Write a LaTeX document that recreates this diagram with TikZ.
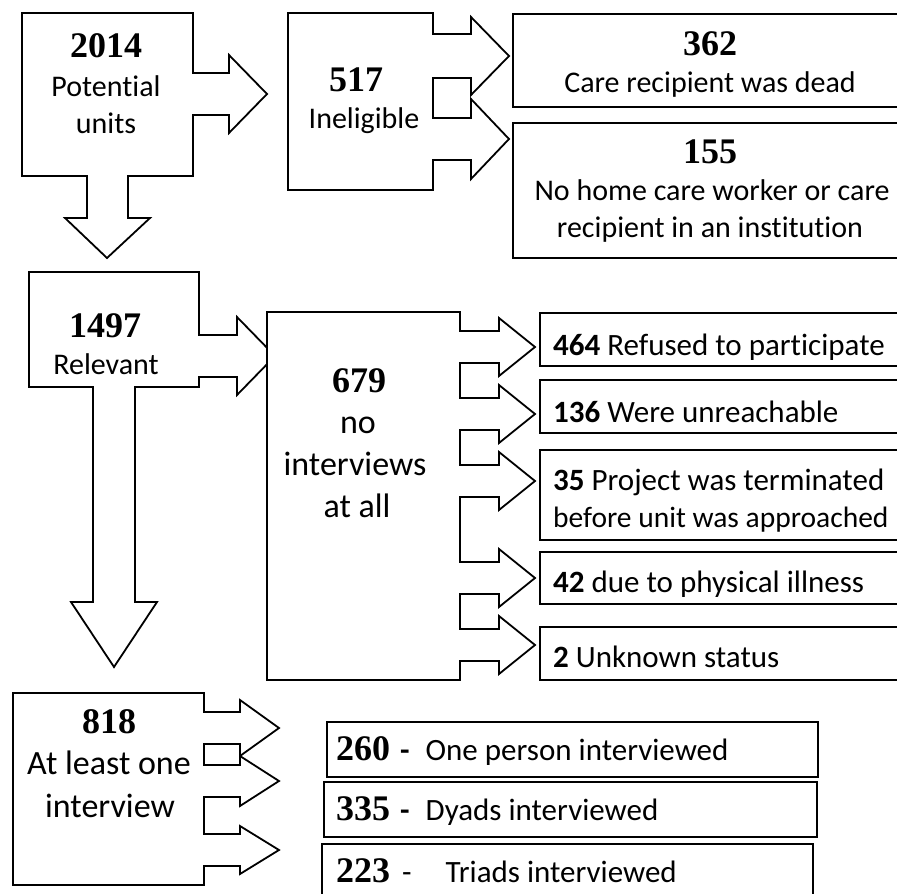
\documentclass[tikz,border=0pt]{standalone}
\usepackage{fontspec}
\setmainfont{Carlito}[Ligatures=CommonOff]
\newfontfamily\numfont{Liberation Serif}
\usepackage{tikz}
\newcommand{\bignum}[1]{{\numfont\bfseries\fontsize{36}{36}\selectfont #1}}
\tikzset{
    blk/.style={draw=black, fill=white, line width=1.8pt, line join=miter},
    plainbox/.style={draw=black, line width=1.5pt},
    numtxt/.style={font=\numfont\bfseries\fontsize{36}{36}\selectfont, anchor=base, inner sep=0pt},
    lbltxt/.style={font=\fontsize{30}{36}\selectfont, anchor=base, inner sep=0pt},
    biglbl/.style={font=\fontsize{34}{40}\selectfont, anchor=base, inner sep=0pt},
    rowtxt/.style={font=\fontsize{31}{36}\selectfont, anchor=base west, inner sep=0pt}
}

\begin{document}
\begin{tikzpicture}[x=1pt, y=-1pt]
            \useasboundingbox (0,0) rectangle (897,894);
            \clip (0,0) rectangle (897,894);
            \fill[white] (0,0) rectangle (897,894);
            \filldraw[blk] (22,13) -- (193,13) -- (193,73) -- (229,73) -- (229,55) -- (267,94) -- (229,133)
                -- (229,115) -- (193,115) -- (193,176) -- (128,176) -- (128,218) -- (150,218) -- (107,258)
                -- (65,218) -- (87,218) -- (87,176) -- (22,176) -- cycle;
            \filldraw[blk] (288,13) -- (433,13)
                \foreach \c/\s/\h in {56/22/39,139/21/40}{
                    -- (433,\c-\s) -- (471,\c-\s) -- (471,\c-\h) -- (509,\c) -- (471,\c+\h) -- (471,\c+\s) -- (433,\c+\s)
                } -- (433,190) -- (288,190) -- cycle;
            \filldraw[blk] (29,272) -- (199,272) -- (199,335) -- (237,335) -- (237,317) -- (275,356) -- (237,395)
                -- (237,377) -- (199,377) -- (199,387) -- (135,387) -- (135,602) -- (157,602) -- (114,667)
                -- (71,602) -- (93,602) -- (93,387) -- (29,387) -- cycle;
            \filldraw[blk] (267,312) -- (460,312)
                \foreach \c in {347,414,481,578,645}{
                    -- (460,\c-16) -- (499,\c-16) -- (499,\c-29) -- (535,\c) -- (499,\c+29) -- (499,\c+16) -- (460,\c+16)
                } -- (460,680) -- (267,680) -- cycle;
            \filldraw[blk] (13,693) -- (204,693)
                \foreach \c/\h in {728/28,781/25,850/24}{
                    -- (204,\c-16) -- (240,\c-16) -- (240,\c-\h) -- (279,\c) -- (240,\c+\h) -- (240,\c+16) -- (204,\c+16)
                } -- (204,885) -- (13,885) -- cycle;
            \draw[plainbox] (513,14) rectangle (910,107);
            \draw[plainbox] (513,123) rectangle (910,258);
            \foreach \t/\b in {313/366,380/433,450/540,552/604,627/680}{
                \draw[plainbox] (540,\t) rectangle (910,\b);
            }
            \draw[plainbox] (327,722) rectangle (818,777);
            \draw[plainbox] (324,782) rectangle (817,837);
            \draw[plainbox] (322,844) rectangle (813,910);
            \node[numtxt] (n2014) at (106,57) {2014};
            \node[lbltxt] (potential) at (106,96) {Potential};
            \node[lbltxt] (units) at (106,133) {units};
            \node[numtxt] (n517) at (356,91) {517};
            \node[lbltxt] (inelig) at (364,128) {Ineligible};
            \node[numtxt] (n362) at (710,55) {362};
            \node[lbltxt] (dead) at (710,92) {Care recipient was dead};
            \node[numtxt] (n155) at (710,163) {155};
            \node[lbltxt] (nohome) at (712,200) {No home care worker or care};
            \node[lbltxt] (instit) at (710,237) {recipient in an institution};
            \node[numtxt] (n1497) at (105,337) {1497};
            \node[lbltxt] (relevant) at (106,374) {Relevant};
            \node[numtxt] (n679) at (359,392) {679};
            \node[biglbl] (no) at (358,433) {no};
            \node[biglbl] (interviews) at (355,475) {interviews};
            \node[biglbl] (atall) at (357,517) {at all};
            \node[rowtxt] (r464) at (553,355) {\textbf{464} Refused to participate};
            \node[rowtxt] (r136) at (553,422) {\textbf{136} Were unreachable};
            \node[rowtxt] (r35) at (553,490) {\textbf{35} Project was terminated};
            \node[rowtxt, font=\fontsize{29.5}{36}\selectfont] (r35b) at (553,527) {before unit was approached};
            \node[rowtxt] (r42) at (553,592) {\textbf{42} due to physical illness};
            \node[rowtxt] (r2) at (553,667) {\textbf{2} Unknown status};
            \node[numtxt] (n818) at (109,733) {818};
            \node[biglbl] (atleast) at (109,774) {At least one};
            \node[biglbl] (interview) at (110,817) {interview};
            \node[rowtxt] (r260) at (336,760) {\bignum{260}\hspace{10pt}\textbf{-}\hspace{16pt}One person interviewed};
            \node[rowtxt] (r335) at (336,820) {\bignum{335}\hspace{10pt}\textbf{-}\hspace{16pt}Dyads interviewed};
            \node[rowtxt] (r223) at (336,882) {\bignum{223}\hspace{12pt}-\hspace{34pt}Triads interviewed};
        \end{tikzpicture}
\end{document}
